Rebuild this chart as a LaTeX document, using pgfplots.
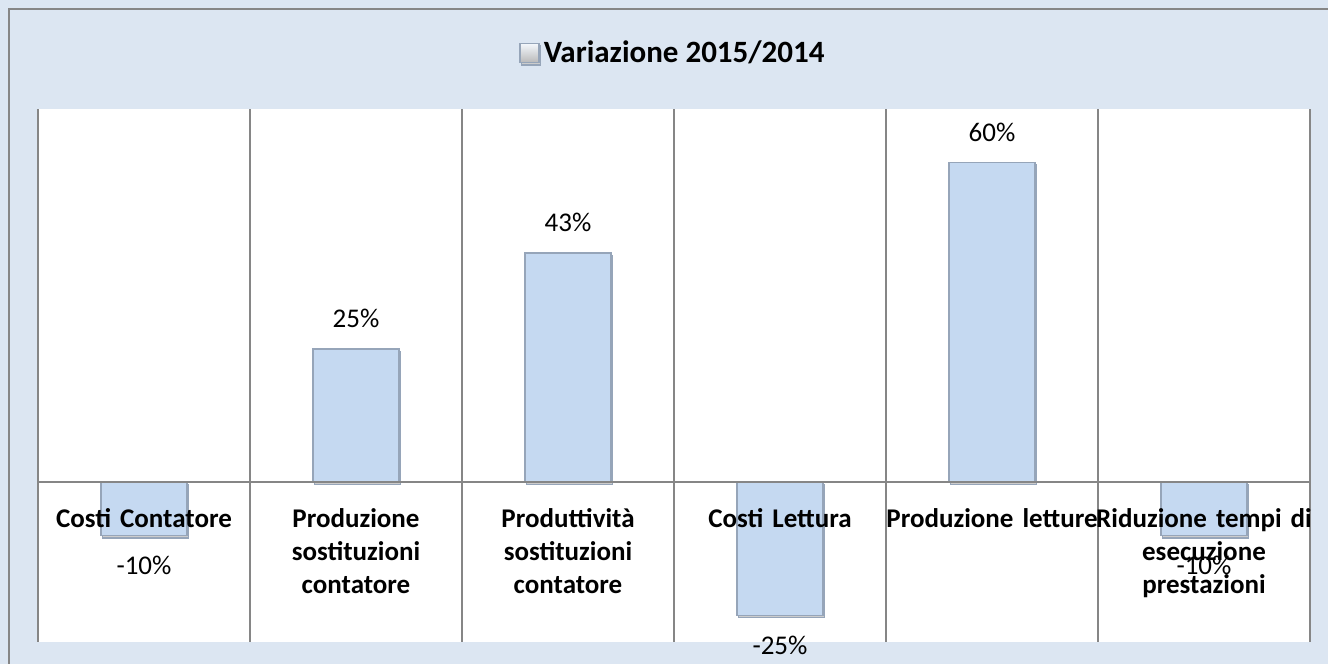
\documentclass[border=0pt]{standalone}
\usepackage{pgfplots}
\pgfplotsset{compat=1.18}
\usepackage{fontspec}
\setmainfont{Carlito}

\definecolor{chartbg}{RGB}{220,230,242}
\definecolor{barfill}{RGB}{197,217,241}
\definecolor{baredge}{RGB}{150,165,185}
\definecolor{gridgray}{RGB}{134,134,134}

\begin{document}
\begin{tikzpicture}
% chart area
\fill[chartbg] (0,0) rectangle (664pt,332pt);
\draw[gridgray, line width=0.9pt] (4.5pt,-2pt) -- (4.5pt,327.5pt) -- (670pt,327.5pt);

\begin{axis}[
  at={(19pt,11pt)}, anchor=south west,
  scale only axis,
  width=636pt, height=266.5pt,
  xmin=-0.5, xmax=5.5, ymin=-30, ymax=70,
  axis background/.style={fill=white},
  axis on top,
  axis x line=middle, axis y line=none,
  x axis line style={-, draw=gridgray, line width=0.8pt},
  hide obscured x ticks=false,
  xtick={0,1,2,3,4,5},
  xticklabels={
    Costi Contatore,
    Produzione\\sostituzioni\\contatore,
    Produttività\\sostituzioni\\contatore,
    Costi Lettura,
    Produzione letture,
    Riduzione tempi di\\esecuzione\\prestazioni},
  xticklabel style={anchor=north, yshift=-13pt, inner sep=0pt,
    text width=110pt, align=center,
    font=\bfseries\fontsize{13.5}{16.5}\selectfont},
  major tick length=0pt, minor tick length=0pt,
  minor xtick={-0.5,0.5,1.5,2.5,3.5,4.5,5.5},
  xminorgrids, minor grid style={draw=gridgray, line width=0.8pt},
  ytick=\empty,
  ybar, bar width=43pt,
  point meta=y,
  nodes near coords={\pgfmathprintnumber{\pgfplotspointmeta}\%},
  nodes near coords align={vertical},
  every node near coord/.append style={font=\fontsize{13.5}{16}\selectfont,
    inner xsep=0pt, inner ysep=10pt, text=black,
    /pgf/number format/assume math mode=true},
  clip=false,
  legend style={at={(0.5,1)}, anchor=center, yshift=28pt,
    draw=none, fill=none, font=\bfseries\fontsize{15.5}{18}\selectfont,
    inner sep=0pt},
  legend image code/.code={
    \shade[top color=white!80!barfill, bottom color=gray!55]
      (0pt,-4.75pt) rectangle (9.5pt,4.75pt);},
]
\addplot[fill=barfill, draw=baredge, line width=0.7pt,
  preaction={fill=black!20, transform canvas={xshift=0.8pt, yshift=-1.2pt}}]
  coordinates {
  (0,-10)
  (1,25)
  (2,43)
  (3,-25)
  (4,60)
  (5,-10)
};
\addlegendentry{Variazione 2015/2014}
\end{axis}

\pgfresetboundingbox
\useasboundingbox (0,0) rectangle (664pt,332pt);
\end{tikzpicture}
\end{document}
